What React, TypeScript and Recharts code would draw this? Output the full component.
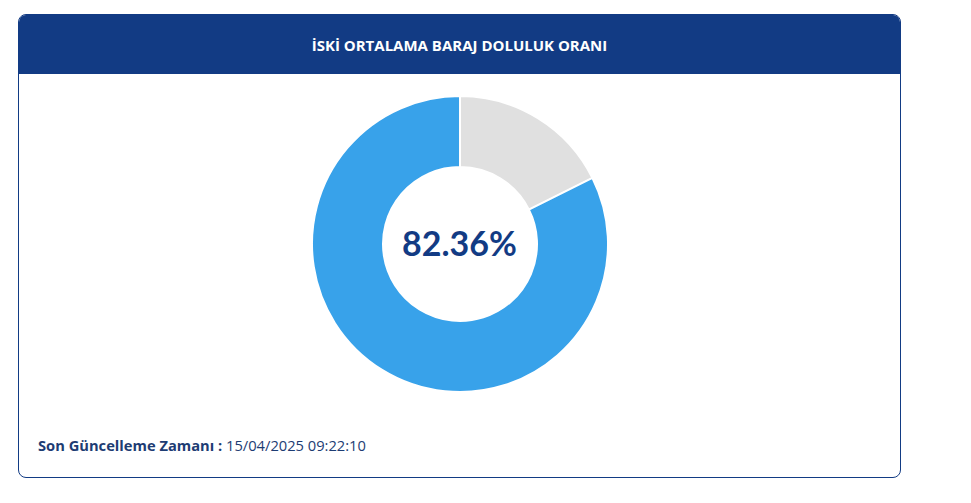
import { PieChart, Pie, Cell, Label } from "recharts";

const sliceNames = ["Boş", "Dolu"];
const sliceValues = [17.64, 82.36];
const sliceColors = ["#e0e0e0", "#38a2ea"];

const title = "İSKİ ORTALAMA BARAJ DOLULUK ORANI";
const centerLabel = "82.36%";
const updatedLabel = "Son Güncelleme Zamanı :";
const updatedValue = "15/04/2025 09:22:10";

const navy = "#123b84";

export default function App() {
  const data = sliceNames.map((name, i) => ({ name, value: sliceValues[i] }));

  return (
    <div style={{ position: "relative", width: 955, height: 480, fontFamily: "'Open Sans', 'Noto Sans', sans-serif" }}>
      <div
        style={{
          position: "absolute",
          left: 10,
          top: 6,
          width: 881,
          height: 462,
          border: `1px solid ${navy}`,
          borderRadius: 8,
          overflow: "hidden",
          background: "#fff"
        }}
      >
        <div
          style={{
            height: 59,
            background: navy,
            color: "#fff",
            fontWeight: 700,
            fontSize: 15,
            display: "flex",
            alignItems: "center",
            justifyContent: "center"
          }}
        >
          {title}
        </div>
        <div style={{ position: "absolute", left: 0, top: 59 }}>
          <PieChart width={881} height={340}>
            <Pie
              data={data}
              dataKey="value"
              nameKey="name"
              cx={436}
              cy={165}
              innerRadius={77}
              outerRadius={148}
              startAngle={90}
              endAngle={-270}
              stroke="#fff"
              strokeWidth={2}
              isAnimationActive={false}
            >
              {data.map((d, i) => (
                <Cell key={d.name} fill={sliceColors[i]} />
              ))}
              <Label
                value={centerLabel}
                position="center"
                fill={navy}
                style={{ fontSize: 34, fontWeight: 700, fontFamily: "Lato, sans-serif" }}
              />
            </Pie>
          </PieChart>
        </div>
        <div
          style={{
            position: "absolute",
            left: 19,
            top: 420,
            fontSize: 14.7,
            color: "#1d3c73"
          }}
        >
          <span style={{ fontWeight: 700 }}>{updatedLabel}</span> {updatedValue}
        </div>
      </div>
    </div>
  );
}
